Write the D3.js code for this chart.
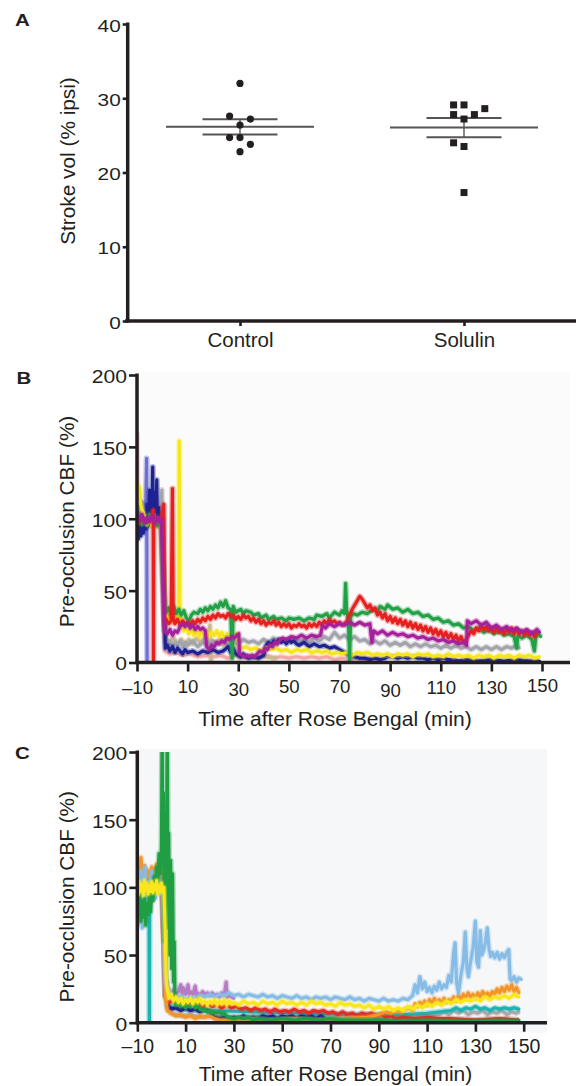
<!DOCTYPE html>
<html>
<head>
<meta charset="utf-8">
<script src="https://cdn.jsdelivr.net/npm/d3@7"></script>
<style>
  body { margin: 0; background: #fff; }
  svg { display: block; font-family: "Liberation Sans", Arial, Helvetica, sans-serif; }
</style>
</head>
<body>
<svg id="fig" width="576" height="1086"></svg>
<script>
// ---- panel A: stroke volume per animal (% of ipsilateral hemisphere)
const aGroups = ["Control", "Solulin"];
// listed in animal order; the swarm layout below places them in that order
const controlVol = [32.0, 26.4, 27.6, 27.2, 24.7, 24.7, 23.8, 22.8];
const solulinVol = [29.1, 29.1, 27.2, 27.8, 27.8, 28.6, 23.5, 24.0, 17.3];
const volTicks = [0, 10, 20, 30, 40];

// ---- panels B / C: CBF traces, [minutes after Rose Bengal, % of pre-occlusion]
const timeTicks = [-10, 10, 30, 50, 70, 90, 110, 130, 150];
const cbfTicks = [0, 50, 100, 150, 200];

// B: control animals
const bPink = [[-10,160],[-9.8,122],[-9.5,104],[-8,99],[-6,97],[-4,100],[-2,96],[-0.5,98],[0.5,40],[1,8],[3,6],[5,7],[8,5],[11,6],[14,4],[17,5],[20,4],[23,5],[26,3],[29,5],[32,4],[35,5],[38,4],[41,5],[44,3],[47,4],[50,3],[53,4],[56,3],[59,4],[62,3],[65,4],[68,2],[71,3],[74,2],[77,3],[80,2],[83,3],[86,2]];
const bTan = [[-10,102],[-7,97],[-4,101],[-1,96],[0.6,30],[1.5,17],[3,14],[4.5,17],[6,13],[7.5,16],[9,12],[10.5,16],[12,13],[13.5,17],[15,14],[16.5,17],[18,14],[18.8,26],[19.2,1],[19.6,15],[21,13],[22.5,16],[24,12],[25.5,15],[27,12],[28.5,14],[30,12],[30.4,3],[33,4],[36,3],[40,4],[45,3]];
const bLavender = [[-10,110],[-9,104],[-8,112],[-7,106],[-6.5,114],[-6.2,142],[-6.0,0]];
const bGrey = [[-10,103],[-8,97],[-6,101],[-4,96],[-2,100],[-1,94],[-0.2,120],[0.3,60],[1,14],[2,12],[3,15],[4,11],[5,14],[6,12],[7,15],[8,11],[9,14],[10,12],[12,15],[14,11],[16,14],[18,12],[20,15],[22,13],[24,16],[26,12],[28,15],[30,13],[32,16],[34,14],[36,15],[38,13],[40,16],[42,14],[44,17],[46,15],[48,16],[50,14],[52,17],[54,15],[56,16],[58,14],[60,17],[62,15],[64,18],[66,16],[68,21],[70,17],[72,19],[74,16],[76,18],[78,15],[80,16],[82,13],[84,15],[86,13],[88,15],[90,12],[92,14],[94,12],[96,14],[98,11],[100,13],[102,11],[104,13],[106,11],[108,12],[110,10],[112,12],[114,10],[116,12],[118,10],[120,11],[122,9],[124,11],[126,9],[128,11],[130,9],[132,11],[134,9],[136,11],[138,10],[140,12],[141,10]];
const bDarkBlue = [[-10,92],[-9.5,86],[-9,95],[-8.5,88],[-8,96],[-7.5,90],[-7,100],[-6.5,93],[-6,110],[-5.5,95],[-5,120],[-4.5,100],[-4,112],[-3.8,136],[-3.6,100],[-3,118],[-2.5,105],[-2.2,127],[-2,100],[-1.5,108],[-1,96],[0,100],[0.7,50],[1.2,10],[2,12],[3,8],[4,11],[5,7],[6,10],[7,8],[8,6],[9,9],[10,7],[12,8],[14,6],[16,8],[18,7],[20,9],[22,7],[24,8],[26,11],[27,7],[28,10],[29,6],[30,5],[31,4],[32,6],[33,4],[34,3],[36,4],[38,3],[40,5],[41,12],[42,14],[43,12],[44,15],[45,13],[46,16],[47,14],[48,15],[49,13],[50,16],[51,14],[52,15],[53,13],[54,12],[56,14],[58,11],[60,13],[62,11],[64,12],[66,10],[68,11],[70,9],[72,7],[74,5],[76,4],[78,3],[80,3],[82,2],[84,3],[86,2],[88,3],[89,4],[91,4],[93,3],[95,4],[97,3],[99,4],[101,3],[103,3],[105,2],[107,3],[109,2],[111,3],[113,2],[115,2],[117,1],[120,2],[125,1],[130,2],[135,1],[140,2],[145,1],[149,1]];
const bYellow = [[-10,125],[-9.5,118],[-9,122],[-8.5,110],[-8,106],[-7,102],[-6,96],[-5,100],[-4,94],[-3,98],[-2,95],[-1,99],[0,97],[0.8,40],[1.5,30],[2.5,33],[3.5,28],[4.5,32],[5.5,29],[6.5,33],[6.7,154],[6.9,35],[7.5,28],[8.5,22],[9.5,24],[10.5,20],[11.5,23],[12.5,19],[13.5,22],[14.5,18],[15.5,21],[16.5,19],[17.5,22],[18.5,18],[19.5,21],[20.5,19],[21.5,22],[22.5,18],[23.5,21],[24.5,17],[25.5,20],[26.5,18],[27.5,21],[28.5,19],[29.5,20],[30.3,11],[31.5,10],[33,11],[35,9],[37,10],[39,8],[41,10],[43,9],[45,10],[47,8],[49,9],[51,7],[53,9],[55,8],[57,9],[59,7],[61,8],[63,7],[65,8],[67,6],[69,7],[71,6],[73,7],[75,5],[77,7],[79,6],[81,7],[83,5],[85,6],[87,5],[89,6],[91,4],[93,6],[95,5],[97,6],[99,4],[101,6],[103,5],[105,6],[107,4],[109,5],[111,4],[113,6],[115,4],[117,5],[119,4],[121,5],[123,3],[125,5],[127,4],[129,5],[131,3],[133,5],[135,4],[137,5],[139,3],[141,5],[143,4],[145,5],[147,3],[149,4]];
const bGreen = [[-10,98],[-9,102],[-8,96],[-7,100],[-6,97],[-5,103],[-4,99],[-3,101],[-2,95],[-1,100],[-0.3,97],[0.5,60],[1,40],[1.5,35],[2.5,38],[3.5,33],[4.5,39],[5.5,34],[6.5,37],[7.5,33],[8.5,36],[9.5,31],[10.5,29],[11.5,33],[12.5,35],[14,34],[15,37],[16,35],[17,38],[18,36],[19,39],[20,37],[21,40],[22,38],[23,42],[24,39],[25,43],[26,38],[27,37],[27.6,3],[28,39],[29,35],[30,36],[31,37],[32,34],[33,36],[35,35],[36,33],[38,34],[39,31],[41,33],[42,30],[44,32],[45,30],[47,31],[49,29],[50,31],[52,30],[54,31],[56,29],[58,31],[60,30],[61,33],[63,32],[65,34],[66,31],[68,35],[70,33],[71,36],[72,34],[72.4,55],[72.8,36],[73.5,30],[74,2],[74.4,32],[75.5,34],[77,33],[79,35],[81,34],[83,37],[85,36],[86,39],[88,37],[89,40],[91,37],[93,38],[95,35],[97,37],[99,34],[101,35],[103,32],[105,33],[107,30],[109,31],[111,28],[113,29],[115,26],[117,27],[119,24],[121,25],[123,22],[125,24],[127,21],[129,23],[131,20],[133,22],[135,19],[137,20],[139,18],[140,10],[140.5,19],[142,17],[144,19],[146,16],[147,8],[147.5,17],[148.5,20],[149.5,18]];
const bRed = [[-10,96],[-8,100],[-6,98],[-4,102],[-3.6,106],[-3.5,0],[-3.4,97],[-2,100],[-1,98],[0,104],[0.6,110],[0.9,26],[1.5,30],[2.5,27],[3.5,29],[4,121],[4.3,31],[5,27],[6,30],[7,26],[8,29],[9,27],[10,28],[11,26],[12,29],[13,27],[14,30],[15,28],[16,31],[17,29],[18,32],[19,30],[20,33],[21,31],[22,34],[23,32],[24,33],[25,31],[26,34],[27,32],[28,33],[29,30],[30,32],[31,30],[32,33],[33,31],[34,32],[35,29],[36,31],[37,28],[38,30],[39,27],[40,29],[41,26],[42,28],[43,27],[44,29],[45,26],[46,28],[47,25],[48,27],[49,25],[50,27],[51,24],[52,26],[53,25],[54,27],[55,25],[56,26],[57,24],[58,27],[59,25],[60,27],[61,25],[62,28],[63,26],[64,29],[65,27],[66,30],[67,28],[68,29],[69,27],[70,28],[71,26],[72,27],[73,29],[74,33],[75,37],[76,40],[77,43],[78,46],[79,44],[80,41],[81,38],[82,40],[83,36],[84,38],[85,33],[86,35],[87,31],[88,34],[89,29],[90,32],[91,28],[92,31],[93,27],[94,30],[95,26],[96,29],[97,25],[98,28],[99,24],[100,27],[101,23],[102,26],[103,22],[104,25],[105,21],[106,24],[107,20],[108,23],[109,19],[110,22],[111,18],[112,21],[113,17],[114,20],[115,16],[116,19],[117,15],[118,18],[119,14],[120,16],[121,19],[122,22],[123,20],[124,24],[125,22],[126,26],[127,23],[128,25],[129,22],[130,24],[131,21],[132,24],[133,21],[134,23],[135,20],[136,23],[137,21],[138,24],[139,20],[140,23],[141,20],[142,22],[143,19],[144,22],[145,19],[146,21],[147,18],[148,21]];
const bMagenta = [[-10,104],[-9,99],[-8,103],[-7,97],[-6,101],[-5,98],[-4,102],[-3,97],[-2,101],[-1,98],[-0.4,100],[0.2,60],[0.8,22],[2,20],[3,23],[4,19],[5,22],[6,21],[7,25],[8,27],[9,25],[10,27],[11,24],[12,26],[13,23],[14,25],[15,23],[16,24],[17,22],[17.5,11],[18.5,9],[19.5,12],[20.5,11],[21.5,14],[22.5,13],[23.5,15],[24.5,14],[25.5,17],[26.5,16],[27.5,18],[28.5,17],[29.5,19],[30.2,20],[30.5,6],[31.5,5],[32.5,4],[33.5,5],[34.5,4],[35.5,5],[36.5,4],[37.5,6],[38.5,8],[39.5,7],[40.5,10],[41.5,9],[42.5,12],[43.5,11],[44.5,14],[45.5,13],[46.5,16],[47.5,17],[49,16],[51,18],[53,17],[55,19],[57,17],[59,19],[61,18],[62.5,19],[63.3,26],[64.5,24],[66,27],[68,25],[70,27],[72,26],[74,28],[76,26],[78,28],[80,26],[82,27],[82.8,14],[83.5,22],[85,20],[87,22],[89,19],[91,21],[93,19],[95,20],[97,18],[99,19],[101,17],[103,18],[105,16],[107,17],[109,15],[111,16],[113,14],[115,15],[117,13],[119,14],[120.2,12],[120.5,29],[122,27],[124,29],[126,26],[128,28],[130,24],[132,26],[134,23],[136,25],[138,22],[140,24],[142,21],[144,23],[146,20],[148,23],[149,21]];

// C: Solulin-treated animals
const cGrey = [[-10,98],[-7,102],[-4,96],[-1,100],[0.5,95],[1,84],[1.5,60],[2,20],[2.5,10],[4,7],[8,5],[12,6],[16,4],[20,5],[30,4],[40,5],[50,4],[60,5],[70,4],[80,5],[90,4],[100,5],[110,5],[115,6],[117,8],[119,6],[121,9],[123,7],[125,9],[127,6],[129,8],[131,7],[133,9],[135,6],[137,8],[139,7],[141,9],[143,6],[145,8],[147,7],[148,8]];
const cTeal = [[-10,98],[-8,102],[-6,96],[-5.2,90],[-5.1,72],[-5,0],[-4.9,95],[-3,100],[-1,97],[0.5,99],[1.5,40],[2.5,12],[10,10],[20,9],[40,8],[60,7],[80,6],[100,6],[110,7],[120,9],[122,11],[124,9],[126,11],[128,10],[130,12],[132,10],[134,11],[136,9],[138,11],[140,10],[142,11],[144,10],[146,11],[148,10]];
const cDarkBlue = [[-10,110],[-9.5,95],[-9,115],[-8.5,88],[-8,105],[-7.5,85],[-7,100],[-6.5,92],[-6,110],[-5.5,90],[-5,103],[-4.5,95],[-4,112],[-3.5,100],[-3,108],[-2,98],[-1,105],[0,96],[0.5,110],[1,70],[1.5,20],[2,30],[3,12],[4,10],[6,11],[8,9],[10,11],[12,9],[14,10],[16,8],[18,10],[20,8],[21,6],[22,4],[24,3],[26,4],[28,3],[30,4],[32,3],[34,5],[36,3],[38,4],[40,3],[42,5],[44,4],[46,5],[48,3],[50,5],[52,4],[54,5],[56,3],[58,5],[60,4],[62,5],[64,3],[66,5],[67,4],[68,1],[80,1],[100,1],[120,1],[148,1]];
const cRed = [[-10,100],[-8,104],[-6,98],[-4,102],[-2,99],[0,103],[1,60],[2,18],[3,15],[5,16],[7,14],[9,15],[11,13],[13,15],[15,14],[17,12],[19,14],[21,12],[23,13],[25,11],[27,13],[29,11],[31,12],[33,10],[35,11],[37,9],[39,11],[41,9],[43,10],[45,8],[47,10],[49,8],[51,9],[53,8],[55,10],[57,8],[59,9],[61,7],[63,9],[65,8],[67,9],[69,7],[71,8],[73,6],[75,8],[77,6],[79,7],[81,5],[83,7],[85,6],[87,7],[89,5],[91,6],[93,4],[95,5],[97,3],[100,4],[105,3],[110,4],[115,3],[120,3],[130,2],[140,3],[148,2]];
const cOrange = [[-10,110],[-9.5,118],[-9,105],[-8.5,122],[-8,112],[-7.5,108],[-7,116],[-6.5,104],[-6,113],[-5,107],[-4,115],[-3,109],[-2,117],[-1,110],[0,114],[0.5,105],[1,60],[1.5,20],[2.5,9],[4,7],[6,5],[8,6],[10,4],[12,5],[14,3],[16,5],[18,4],[20,5],[22,3],[24,2],[28,2],[35,3],[45,2],[55,3],[65,2],[75,3],[85,4],[90,6],[93,8],[95,7],[97,9],[99,8],[101,10],[103,11],[104,9],[105,14],[106,12],[107,15],[108,13],[109,16],[110,13],[111,17],[112,14],[113,18],[114,15],[115,17],[116,14],[117,18],[118,15],[119,17],[120,16],[121,19],[122,16],[123,20],[124,17],[125,21],[126,18],[127,22],[128,19],[129,21],[130,18],[131,22],[132,19],[133,23],[134,20],[135,22],[136,19],[137,23],[138,21],[139,25],[140,22],[141,26],[142,23],[143,27],[144,24],[145,28],[146,23],[147,26],[148,22]];
const cPurple = [[-10,102],[-6,98],[-2,101],[0.5,97],[1.5,30],[2.5,22],[3,25],[4,20],[5,24],[6,21],[7,23],[8,28],[8.5,20],[9,26],[10,21],[11,28],[11.5,21],[12,23],[13,21],[14,27],[14.5,20],[15,22],[16,20],[17,23],[18,21],[19,22],[20,20],[21,22],[22,20],[23,21],[24,19],[25,22],[26,20],[26.8,30],[27.2,19],[28,20],[30,18]];
const cLightBlue = [[-10,88],[-9.6,72],[-9.2,108],[-8.8,80],[-8.4,112],[-8,70],[-7.6,100],[-7.2,85],[-6.8,115],[-6.4,78],[-6,98],[-5.5,84],[-5,105],[-4.5,90],[-4,112],[-3.5,95],[-3,104],[-2.5,92],[-2,110],[-1.5,98],[-1,106],[-0.5,95],[0,102],[0.7,90],[1.5,40],[2.5,25],[4,21],[6,18],[8,20],[10,17],[12,19],[14,18],[16,20],[18,19],[20,21],[22,19],[24,21],[26,20],[28,22],[30,20],[32,21],[34,19],[36,21],[38,20],[40,19],[42,21],[44,19],[46,20],[48,18],[50,20],[52,19],[54,18],[56,20],[58,18],[60,19],[62,17],[64,19],[66,18],[68,19],[70,17],[72,19],[74,18],[76,17],[78,19],[80,17],[82,18],[84,16],[86,18],[88,17],[90,16],[92,18],[94,16],[96,17],[98,16],[100,18],[102,17],[104,20],[105,28],[106,22],[107,34],[108,25],[109,30],[110,23],[111,26],[112,22],[113,27],[114,24],[115,30],[116,25],[117,28],[118,26],[119,35],[120,30],[121,52],[121.6,59],[122.2,30],[123,22],[124,35],[125,45],[125.8,67],[126.5,40],[127.1,34],[128,45],[129,55],[130,75],[130.6,45],[131.3,41],[132,68],[132.7,50],[133.5,54],[134.2,60],[134.9,70],[135.6,55],[136.3,49],[137,52],[138,48],[139,52],[140,47],[141,51],[142,48],[143,52],[143.8,54],[144.4,32],[145,31],[146,34],[147,30],[148,33],[149,32]];
const cGreen = [[-10,95],[-9.5,80],[-9,100],[-8.5,75],[-8,90],[-7.5,78],[-7,92],[-6.5,72],[-6,88],[-5.5,80],[-5,95],[-4.5,82],[-4,100],[-3.5,90],[-3,108],[-2.5,100],[-2,115],[-1.5,105],[-1,125],[-0.5,110],[0,130],[0.3,230],[0.5,120],[0.8,170],[1.2,60],[1.6,150],[2,90],[2.4,230],[2.7,70],[3,140],[3.4,50],[3.8,120],[4.2,40],[4.6,110],[5,30],[5.3,60],[5.6,15],[6,13],[7,15],[8,12],[9,14],[10,11],[11,13],[12,12],[13,14],[14,11],[15,13],[16,10],[17,9],[18,10],[19,8],[20,9],[21,7],[22,8],[23,7],[24,8],[25,6],[26,7],[27,5],[28,4],[30,3],[32,4],[34,3],[36,4],[38,2],[40,3],[45,2],[50,3],[55,2],[60,3],[65,2],[70,3],[75,2],[80,2],[90,2],[100,1],[110,2],[120,1],[130,1],[140,2],[148,1]];
const cYellow = [[-10,100],[-9.5,95],[-9,104],[-8.5,97],[-8,102],[-7.5,94],[-7,105],[-6.5,98],[-6,103],[-5.5,95],[-5,101],[-4.5,97],[-4,104],[-3.5,96],[-3,102],[-2.5,98],[-2,105],[-1.5,95],[-1,101],[-0.5,97],[0,103],[0.5,96],[1,100],[1.5,70],[2,30],[2.5,24],[3,18],[4,21],[5,16],[6,19],[7,15],[8,18],[9,14],[10,17],[11,15],[12,18],[13,14],[14,17],[15,15],[16,18],[17,14],[18,16],[19,13],[20,16],[21,14],[22,17],[23,13],[24,16],[25,14],[26,17],[27,13],[28,16],[29,14],[30,15],[32,13],[34,16],[36,14],[38,15],[40,13],[42,16],[44,14],[46,15],[48,13],[50,16],[52,14],[54,15],[56,13],[58,15],[60,13],[62,16],[64,14],[66,15],[68,13],[70,14],[72,12],[74,15],[76,13],[78,14],[80,12],[82,13],[84,11],[86,13],[88,10],[90,12],[92,10],[94,12],[96,9],[98,11],[100,9],[102,12],[104,10],[106,13],[108,11],[110,14],[112,12],[114,15],[116,13],[118,16],[120,14],[122,17],[124,15],[126,17],[128,16],[130,18],[132,16],[134,19],[136,17],[138,19],[140,18],[142,20],[144,18],[146,21],[148,19]];

// drawing order = back to front
const bTraces = [
  { pts: bPink, color: "#f2a7a5" }, { pts: bTan, color: "#c9b78f" },
  { pts: bLavender, color: "#6f71d2" }, { pts: bGrey, color: "#a2a4ac" },
  { pts: bDarkBlue, color: "#1e2190" }, { pts: bYellow, color: "#f7e51b" },
  { pts: bGreen, color: "#22a046" }, { pts: bRed, color: "#e5201e" },
  { pts: bMagenta, color: "#a5219a" },
];
const cTraces = [
  { pts: cGrey, color: "#a9a9ad" }, { pts: cTeal, color: "#1cb2b0" },
  { pts: cDarkBlue, color: "#1c1f8c" }, { pts: cRed, color: "#e42a24" },
  { pts: cOrange, color: "#f29427" }, { pts: cPurple, color: "#b57cc4" },
  { pts: cLightBlue, color: "#86bce6" }, { pts: cGreen, color: "#1f9e44" },
  { pts: cYellow, color: "#f9e71c" },
];

const ink = "#231f20";
const svg = d3.select("#fig");

// panel letters (the scan is stretched a little sideways, so is the lettering)
[["A", 15, 25.7], ["B", 16.5, 384], ["C", 15, 759]].forEach(([t, x, y]) => {
  svg.append("text").attr("transform", `translate(${x},${y}) scale(1.28,1)`)
    .attr("font-size", 16).attr("font-weight", "bold").attr("fill", ink).text(t);
});

function bareAxis(g) {
  g.attr("font-family", null).attr("font-size", null);
  g.select(".domain").remove();
  g.selectAll(".tick line").attr("stroke", ink).attr("stroke-width", 2.6);
  g.selectAll(".tick text").attr("fill", ink);
  return g;
}

function yTitle(text, x, cy) {
  svg.append("text").attr("transform", `translate(${x},${cy}) rotate(-90)`)
    .attr("text-anchor", "middle").attr("font-size", 20.8).attr("fill", ink).text(text);
}

// ================= A: scatter with mean ± SEM =================
const yA = d3.scaleLinear([0, 40], [321, 24]);
const xA = d3.scalePoint(aGroups, [128, 576]).padding(0.5);

// simple swarm: each point takes the first free slot next to the group centre
function swarm(values, cx, step, minDist) {
  const placed = [];
  const slots = [0, -1, 1, 2, -2, 3, -3];
  for (const v of values) {
    const py = yA(v);
    for (const s of slots) {
      const px = cx + s * step;
      if (placed.every(p => Math.hypot(p.x - px, p.y - py) >= minDist)) {
        placed.push({ x: px, y: py, v });
        break;
      }
    }
  }
  return placed;
}

const gA = svg.append("g");
const yAxA = bareAxis(gA.append("g").attr("transform", "translate(127.7,0)")
  .call(d3.axisLeft(yA).tickValues(volTicks).tickSize(5).tickSizeOuter(0)));
yAxA.selectAll(".tick text").attr("font-size", 16).attr("x", -7 / 1.3)
  .attr("dy", "0.45em").attr("transform", "scale(1.3,1)");
const xAxA = bareAxis(gA.append("g").attr("transform", "translate(0,321)")
  .call(d3.axisBottom(xA).tickSize(5).tickSizeOuter(0)));
xAxA.selectAll(".tick text").attr("font-size", 20.5).attr("dy", null).attr("y", 26);
gA.append("line").attr("x1", 127.7).attr("x2", 127.7).attr("y1", yA(40) - 1.5).attr("y2", yA(0) + 1.5)
  .attr("stroke", ink).attr("stroke-width", 3.5);
gA.append("line").attr("x1", 125).attr("x2", 576).attr("y1", yA(0)).attr("y2", yA(0))
  .attr("stroke", ink).attr("stroke-width", 3.5);
yTitle("Stroke vol (% ipsi)", 74.5, 161);

[[aGroups[0], controlVol, "circle"], [aGroups[1], solulinVol, "square"]].forEach(([grp, vals, shape]) => {
  const cx = xA(grp);
  const m = d3.mean(vals);
  const sem = d3.deviation(vals) / Math.sqrt(vals.length);
  const g = gA.append("g").attr("stroke", "#555").attr("stroke-width", 2);
  g.append("line").attr("x1", cx - 74).attr("x2", cx + 74).attr("y1", yA(m)).attr("y2", yA(m));
  g.append("line").attr("x1", cx).attr("x2", cx).attr("y1", yA(m + sem)).attr("y2", yA(m - sem)).attr("stroke-width", 1.4);
  [m + sem, m - sem].forEach(v => g.append("line")
    .attr("x1", cx - 37.5).attr("x2", cx + 37.5).attr("y1", yA(v)).attr("y2", yA(v)));
  const pts = swarm(vals, cx, 10.4, 9.3);
  if (shape === "circle") {
    gA.append("g").selectAll("circle").data(pts).join("circle")
      .attr("cx", d => d.x).attr("cy", d => d.y).attr("r", 3.6).attr("fill", ink);
  } else {
    gA.append("g").selectAll("rect").data(pts).join("rect")
      .attr("x", d => d.x - 3.5).attr("y", d => d.y - 3.5).attr("width", 7).attr("height", 7).attr("fill", ink);
  }
});

// ================= B / C: CBF traces =================
function cbfPanel(id, traces, x, y, opts) {
  const [x0, x1] = x.range();
  const [yBot, yTop] = y.range();
  const g = svg.append("g");
  g.append("rect").attr("x", x0).attr("y", yTop - 3).attr("width", opts.axisEnd - x0)
    .attr("height", yBot - yTop + 3 + opts.bgBelow).attr("fill", opts.bg);
  svg.append("defs").append("clipPath").attr("id", id)
    .append("rect").attr("x", x0).attr("y", yTop).attr("width", opts.axisEnd - x0).attr("height", yBot - yTop);

  // recordings are noisy: a soft wide stroke under each trace gives the band look
  const line = d3.line().x(d => x(d[0])).y(d => y(d[1]));
  const tr = g.append("g").attr("clip-path", `url(#${id})`)
    .selectAll("g").data(traces).join("g");
  tr.append("path").attr("d", d => line(d.pts)).attr("fill", "none")
    .attr("stroke", d => d.color).attr("stroke-width", 6).attr("stroke-opacity", 0.35)
    .attr("stroke-linejoin", "round");
  tr.append("path").attr("d", d => line(d.pts)).attr("fill", "none")
    .attr("stroke", d => d.color).attr("stroke-width", 3.2)
    .attr("stroke-linejoin", "round").attr("stroke-linecap", "round");

  const yAx = bareAxis(g.append("g").attr("transform", `translate(${x0},0)`)
    .call(d3.axisLeft(y).tickValues(cbfTicks).tickSize(8).tickSizeOuter(0)));
  yAx.selectAll(".tick text").attr("font-size", 17.6).attr("x", -10 / 1.2)
    .attr("dy", "0.42em").attr("transform", "scale(1.2,1)");

  const xAx = bareAxis(g.append("g").attr("transform", `translate(0,${yBot})`)
    .call(d3.axisBottom(x).tickValues(timeTicks).tickSize(9).tickSizeOuter(0)
      .tickFormat(d => d < 0 ? "\u2013" + Math.abs(d) : String(d))));
  xAx.selectAll(".tick text").attr("font-size", opts.tickFont).attr("dy", null)
    .attr("y", (d, i) => opts.tickBase + (opts.tickDy ? opts.tickDy[i] : 0));

  g.append("line").attr("x1", x0).attr("x2", x0).attr("y1", yTop - 1.5).attr("y2", yBot + 1.5)
    .attr("stroke", ink).attr("stroke-width", 3.5);
  g.append("line").attr("x1", x0 - 1.5).attr("x2", opts.axisEnd).attr("y1", yBot).attr("y2", yBot)
    .attr("stroke", ink).attr("stroke-width", 3.5);

  g.append("text").attr("x", opts.titleX).attr("y", opts.titleY).attr("text-anchor", "middle")
    .attr("font-size", 21).attr("fill", ink).text("Time after Rose Bengal (min)");
  yTitle("Pre-occlusion CBF (%)", 74, (yTop + yBot) / 2 + opts.yTitleShift);
}

// the B tick labels sit at slightly uneven heights in the source figure
const bTickDy = [1, -0.5, 3, 0, 0, 4, 1, 1, -1];

cbfPanel("clipB", bTraces,
  d3.scaleLinear([-10, 150], [137, 542]), d3.scaleLinear([0, 200], [662.5, 375]),
  { axisEnd: 570, bg: "#fbfbfc", bgBelow: 10, tickFont: 18.6, tickBase: 30.5, tickDy: bTickDy,
    titleX: 335, titleY: 726, yTitleShift: 2.7 });

cbfPanel("clipC", cTraces,
  d3.scaleLinear([-10, 150], [137.3, 523.7]), d3.scaleLinear([0, 200], [1022.7, 752]),
  { axisEnd: 547, bg: "#f6f7f9", bgBelow: 10, tickFont: 19.5, tickBase: 30.5, tickDy: null,
    titleX: 335.5, titleY: 1080.5, yTitleShift: 9.4 });
</script>
</body>
</html>
